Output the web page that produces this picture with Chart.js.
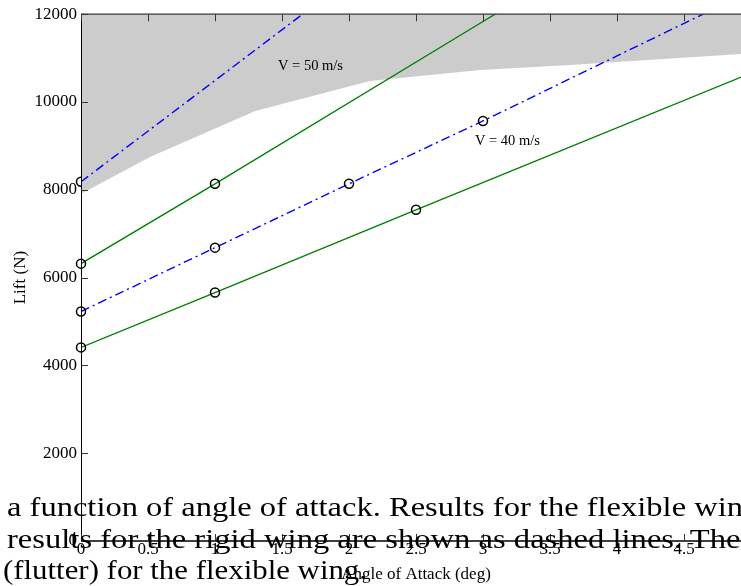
<!DOCTYPE html>
<html><head><meta charset="utf-8">
<script src="https://cdn.jsdelivr.net/npm/chart.js@4.4.0/dist/chart.umd.min.js"></script>
<style>
html,body{margin:0;padding:0;background:#fff;overflow:hidden;width:741px;height:586px;}
#wrap{position:absolute;left:0;top:0;width:760px;height:586px;}
.doc{position:absolute;white-space:nowrap;font-family:"Liberation Serif","Times New Roman",serif;font-size:28px;line-height:normal;color:#000;transform-origin:0 0;pointer-events:none;}
</style></head><body>
<div id="wrap"><canvas id="c" width="760" height="586"></canvas></div>
<div class="doc" id="l1">a function of angle of attack. Results for the flexible wing</div>
<div class="doc" id="l2">results for the rigid wing are shown as dashed lines. The</div>
<div class="doc" id="l3">(flutter) for the flexible wing.</div>
<script>
// ---- data ----
const xLabel = 'Angle of Attack (deg)';
const yLabel = 'Lift (N)';
const xTickValues = [0,0.5,1,1.5,2,2.5,3,3.5,4,4.5,5];
const yTickValues = [0,2000,4000,6000,8000,10000,12000];

// flutter (instability) boundary – region above is shaded
const flutterX = [0,0.515,1.3,2.157,2.978,3.649,4.925,5];
const flutterY = [7909,8750,9795,10477,10727,10841,11091,11105];

// flexible wing, V = 40 m/s (solid)
const flex40X = [0,1,2.5,5];
const flex40Y = [4410,5660,7545,10660];
// rigid wing, V = 40 m/s (dash-dot)
const rigid40X = [0,1,2,3,4,5];
const rigid40Y = [5227,6682,8136,9568,11050,12530];
// flexible wing, V = 50 m/s (solid)
const flex50X = [0,1,3,5];
const flex50Y = [6318,8136,11834,15530];
// rigid wing, V = 50 m/s (dash-dot)
const rigid50X = [0,1,2];
const rigid50Y = [8182,10490,12800];

// measured points (circles)
const flex40PtX = [0,1,2.5];     const flex40PtY = [4410,5660,7545];
const rigid40PtX = [0,1,2,3];    const rigid40PtY = [5227,6682,8136,9568];
const flex50PtX = [0,1];         const flex50PtY = [6318,8136];
const rigid50PtX = [0];          const rigid50PtY = [8182];

const labelTexts = ['V = 50 m/s','V = 40 m/s'];
const labelAt = [[1.47,10818],[2.94,9114]];

// ---- helpers ----
const pts = (xs,ys)=>xs.map((x,i)=>({x:x,y:ys[i]}));
const GREEN = '#008000', BLUE = '#0000ff';
const lineDs = (xs,ys,color,dash,order)=>({type:'line',data:pts(xs,ys),borderColor:color,borderWidth:1.4,borderDash:dash,pointRadius:0,fill:false,tension:0,order:order});
const ptDs = (xs,ys,order)=>({type:'line',data:pts(xs,ys),showLine:false,pointRadius:4.5,pointBorderWidth:1.5,pointBorderColor:'#000',pointBackgroundColor:'rgba(0,0,0,0)',clip:false,order:order});

const frame = {
  id:'frame',
  afterDatasetsDraw(chart){
    const {ctx, chartArea:a, scales:{x,y}} = chart;
    ctx.save();
    ctx.strokeStyle='#000';
    ctx.lineWidth=1; ctx.beginPath(); ctx.moveTo(a.left+0.5,a.top); ctx.lineTo(a.left+0.5,a.bottom); ctx.stroke();
    ctx.lineWidth=1.6; ctx.beginPath(); ctx.moveTo(a.left,a.bottom); ctx.lineTo(a.right,a.bottom); ctx.stroke();
    ctx.strokeStyle='#333'; ctx.lineWidth=1.3; ctx.beginPath(); ctx.moveTo(a.left,a.top); ctx.lineTo(a.right,a.top); ctx.stroke();
    ctx.lineWidth=1; ctx.strokeStyle='#333';
    ctx.beginPath();
    y.ticks.forEach(t=>{const py=Math.round(y.getPixelForValue(t.value))+0.5; ctx.moveTo(a.left,py); ctx.lineTo(a.left+7,py);});
    x.ticks.forEach(t=>{const px=Math.round(x.getPixelForValue(t.value))+0.5; ctx.moveTo(px,a.bottom); ctx.lineTo(px,a.bottom-7); ctx.moveTo(px,a.top); ctx.lineTo(px,a.top+7);});
    ctx.stroke();
    ctx.fillStyle='#000'; ctx.font='14.5px "Liberation Serif", serif'; ctx.textAlign='left'; ctx.textBaseline='middle';
    labelTexts.forEach((s,i)=>ctx.fillText(s, x.getPixelForValue(labelAt[i][0]), y.getPixelForValue(labelAt[i][1])));
    ctx.restore();
  }
};

const tickFont = {family:'"Liberation Serif", serif', size:17};
new Chart(document.getElementById('c'),{
  type:'line',
  data:{datasets:[
    ptDs(flex40PtX,flex40PtY,0),
    ptDs(rigid40PtX,rigid40PtY,0),
    ptDs(flex50PtX,flex50PtY,0),
    lineDs(flex40X,flex40Y,GREEN,[],1),
    lineDs(rigid40X,rigid40Y,BLUE,[9,4,2,4],1),
    lineDs(flex50X,flex50Y,GREEN,[],1),
    lineDs(rigid50X,rigid50Y,BLUE,[9,4,2,4],1),
    {type:'line',data:pts(flutterX,flutterY),borderWidth:0,borderColor:'rgba(0,0,0,0)',backgroundColor:'#cccccc',fill:'end',pointRadius:0,tension:0,order:2},
    ptDs(rigid50PtX,rigid50PtY,3)
  ]},
  options:{
    responsive:false, animation:false, devicePixelRatio:1, events:[],
    layout:{padding:{top:14,right:9,left:0,bottom:0}},
    plugins:{legend:{display:false},tooltip:{enabled:false}},
    scales:{
      x:{type:'linear',min:0,max:5,
        afterBuildTicks:s=>{s.ticks=xTickValues.map(v=>({value:v}));},
        afterFit:s=>{s.height=45;},
        grid:{display:false,drawTicks:false}, border:{display:false},
        ticks:{font:tickFont,color:'#000',padding:-2,maxRotation:0,autoSkip:false,callback:v=>String(v)},
        title:{display:true,text:xLabel,font:tickFont,color:'#000',padding:{top:0,bottom:1}}
      },
      y:{type:'linear',min:0,max:12000,
        afterBuildTicks:s=>{s.ticks=yTickValues.map(v=>({value:v}));},
        afterFit:s=>{s.width=81;},
        grid:{display:false,drawTicks:false}, border:{display:false},
        ticks:{font:tickFont,color:'#000',padding:4,autoSkip:false,callback:v=>String(v)},
        title:{display:true,text:yLabel,font:tickFont,color:'#000',padding:{top:10,bottom:0}}
      }
    }
  },
  plugins:[frame]
});

// fit document text lines to measured widths
(function(){
  const m = document.createElement('canvas').getContext('2d');
  m.font = '28px "Liberation Serif", serif';
  const cfg = [['l1','a function of angle of attack. Results for the flexible win',736,7,491],['l2','results for the rigid wing are shown as dashed lines. The',734,7,523],['l3','(flutter) for the flexible wing.',364,3,554]];
  cfg.forEach(c=>{const el=document.getElementById(c[0]); const w=m.measureText(c[1]).width; el.style.left=c[3]+'px'; el.style.top=c[4]+'px'; el.style.transform='scaleX('+(c[2]/w).toFixed(4)+')';});
})();
</script>
</body></html>
